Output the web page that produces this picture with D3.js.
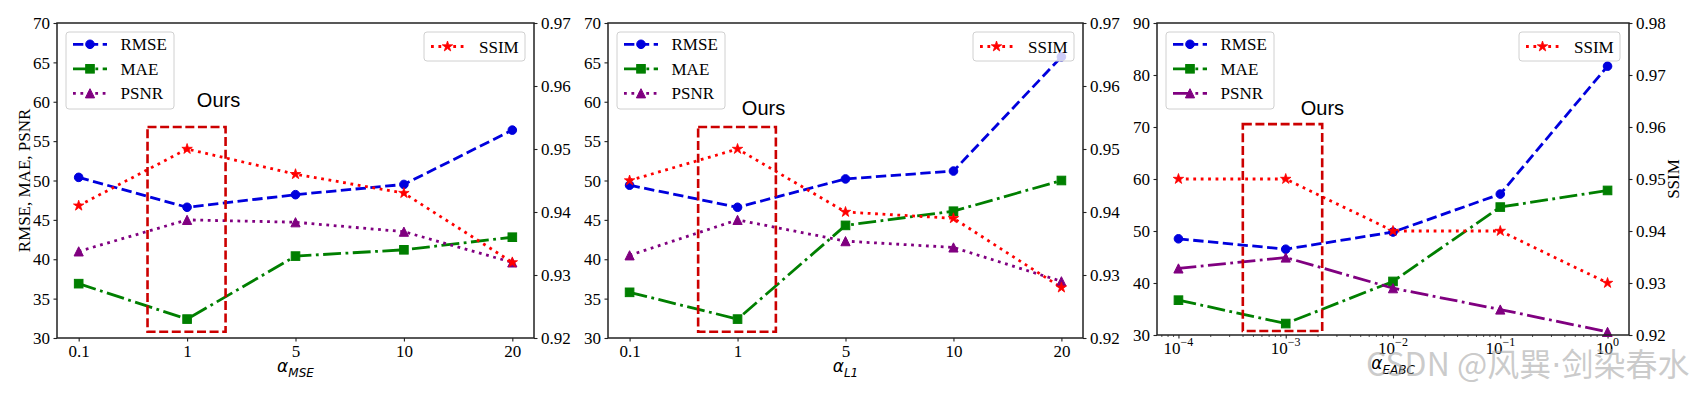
<!DOCTYPE html>
<html><head><meta charset="utf-8">
<script src="https://cdn.jsdelivr.net/npm/d3@7"></script>
<style>body{margin:0;background:#fff} svg{display:block}</style>
</head><body>
<svg id="c" width="1696" height="393"></svg>
<script>
// ---------- data ----------
const catsA = ["0.1", "1", "5", "10", "20"];
const xLog = [1e-4, 1e-3, 1e-2, 1e-1, 1];
const logTickExp = ["−4", "−3", "−2", "−1", "0"];

const rmse1 = [50.4, 46.6, 48.2, 49.5, 56.4];
const mae1  = [36.9, 32.4, 40.4, 41.2, 42.8];
const psnr1 = [41.0, 45.0, 44.7, 43.5, 39.6];
const ssim1 = [0.941, 0.950, 0.946, 0.943, 0.932];

const rmse2 = [49.4, 46.6, 50.2, 51.2, 65.7];
const mae2  = [35.8, 32.4, 44.3, 46.1, 50.0];
const psnr2 = [40.5, 45.0, 42.3, 41.5, 37.2];
const ssim2 = [0.945, 0.950, 0.940, 0.939, 0.928];

const rmse3 = [48.5, 46.5, 49.8, 57.1, 81.7];
const mae3  = [36.7, 32.2, 40.3, 54.6, 57.8];
const psnr3 = [42.8, 44.9, 39.0, 34.9, 30.6];
const ssim3 = [0.950, 0.950, 0.940, 0.940, 0.930];

const leftTicksA  = [30, 35, 40, 45, 50, 55, 60, 65, 70];
const rightTicksA = [0.92, 0.93, 0.94, 0.95, 0.96, 0.97];
const leftTicks3  = [30, 40, 50, 60, 70, 80, 90];
const rightTicks3 = [0.92, 0.93, 0.94, 0.95, 0.96, 0.97, 0.98];

const seriesNames = ["RMSE", "MAE", "PSNR"];
const rightName = "SSIM";

// ---------- styles ----------
const LW = 2.8;
const dashes = {
  "--": [3.7, 1.6].map(v => v * LW).join(","),
  "-.": [6.4, 1.6, 1, 1.6].map(v => v * LW).join(","),
  ":":  [1, 1.65].map(v => v * LW).join(",")
};
const colors = {RMSE: "#0000dd", MAE: "#007f00", PSNR: "#800080", SSIM: "#ff0000"};
const markers = {RMSE: "o", MAE: "s", PSNR: "^", SSIM: "*"};
const SERIF = "'Liberation Serif','Times New Roman',serif";
const SANS = "'Liberation Sans',Arial,sans-serif";
const DV = "'DejaVu Sans',sans-serif";
const FS = 17;

const panels = [
  {frame: {l: 57, r: 534, t: 23, b: 338}, kind: "cat", vals: {RMSE: rmse1, MAE: mae1, PSNR: psnr1, SSIM: ssim1},
   yL: [30, 70], yLt: leftTicksA, yR: [0.92, 0.97], yRt: rightTicksA, sub: "MSE",
   lineStyle: {RMSE: "--", MAE: "-.", PSNR: ":", SSIM: ":"}, ylabel: "RMSE, MAE, PSNR", ylabelR: null,
   ours: [1.09, 59.3], rect: [0.635, 1.355, 30.8, 56.8]},
  {frame: {l: 608, r: 1083, t: 23, b: 338}, kind: "cat", vals: {RMSE: rmse2, MAE: mae2, PSNR: psnr2, SSIM: ssim2},
   yL: [30, 70], yLt: leftTicksA, yR: [0.92, 0.97], yRt: rightTicksA, sub: "L1",
   lineStyle: {RMSE: "--", MAE: "-.", PSNR: ":", SSIM: ":"}, ylabel: null, ylabelR: null,
   ours: [1.04, 58.3], rect: [0.635, 1.355, 30.8, 56.8]},
  {frame: {l: 1157, r: 1629, t: 23, b: 335}, kind: "log", vals: {RMSE: rmse3, MAE: mae3, PSNR: psnr3, SSIM: ssim3},
   yL: [30, 90], yLt: leftTicks3, yR: [0.92, 0.98], yRt: rightTicks3, sub: "EABC",
   lineStyle: {RMSE: "--", MAE: "-.", PSNR: "-.", SSIM: ":"}, ylabel: null, ylabelR: "SSIM",
   ours: [Math.pow(10, -2.86), 72.3], rect: [Math.pow(10, -3.4), Math.pow(10, -2.66), 30.76, 70.55]}
];

const svg = d3.select("#c");

function starPath(R) {
  const r = R * 0.381966, p = [];
  for (let i = 0; i < 10; i++) {
    const a = -Math.PI / 2 + i * Math.PI / 5, rr = i % 2 ? r : R;
    p.push([rr * Math.cos(a), rr * Math.sin(a)]);
  }
  return "M" + p.map(q => q[0].toFixed(2) + "," + q[1].toFixed(2)).join("L") + "Z";
}
function drawMarker(g, type, x, y, color) {
  const s = 8.6;
  if (type === "o") {
    g.append("circle").attr("cx", x).attr("cy", y).attr("r", s / 2).attr("fill", color).attr("stroke", color).attr("stroke-width", 1);
  } else if (type === "s") {
    g.append("rect").attr("x", x - s / 2).attr("y", y - s / 2).attr("width", s).attr("height", s).attr("fill", color).attr("stroke", color).attr("stroke-width", 1);
  } else if (type === "^") {
    const h = s / 2 + 0.3;
    g.append("path").attr("d", `M${x},${y - h}L${x - h},${y + h}L${x + h},${y + h}Z`).attr("fill", color).attr("stroke", color).attr("stroke-width", 1);
  } else if (type === "*") {
    g.append("path").attr("d", starPath(5.5)).attr("transform", `translate(${x},${y})`).attr("fill", color).attr("stroke", color).attr("stroke-width", 0.8);
  }
}

panels.forEach((P, pi) => {
  const f = P.frame;
  const g = svg.append("g");
  const x = P.kind === "cat"
    ? d3.scaleLinear().domain([-0.2, 4.2]).range([f.l, f.r])
    : d3.scaleLog().domain([Math.pow(10, -4.2), Math.pow(10, 0.2)]).range([f.l, f.r]);
  const xv = P.kind === "cat" ? catsA.map((c, i) => i) : xLog;
  const yL = d3.scaleLinear().domain(P.yL).range([f.b, f.t]);
  const yR = d3.scaleLinear().domain(P.yR).range([f.b, f.t]);

  const clipId = "clip" + pi;
  svg.append("clipPath").attr("id", clipId).append("rect")
    .attr("x", f.l).attr("y", f.t).attr("width", f.r - f.l).attr("height", f.b - f.t);

  // axes
  const axL = g.append("g").attr("transform", `translate(${f.l},0)`)
    .call(d3.axisLeft(yL).tickValues(P.yLt).tickSize(3.5).tickPadding(3.5).tickFormat(d3.format("d")));
  const axR = g.append("g").attr("transform", `translate(${f.r},0)`)
    .call(d3.axisRight(yR).tickValues(P.yRt).tickSize(3.5).tickPadding(3.5).tickFormat(d3.format(".2f")));
  let axB;
  if (P.kind === "cat") {
    axB = g.append("g").attr("transform", `translate(0,${f.b})`)
      .call(d3.axisBottom(x).tickValues(xv).tickSize(3.5).tickPadding(3.5).tickFormat(i => catsA[i]));
  } else {
    axB = g.append("g").attr("transform", `translate(0,${f.b})`)
      .call(d3.axisBottom(x).tickValues(xLog).tickSize(3.5).tickPadding(3.5).tickFormat(() => ""));
    xLog.forEach((v, i) => {
      const t = g.append("text").attr("x", x(v)).attr("y", f.b + 19)
        .attr("text-anchor", "middle").attr("font-family", SERIF).attr("font-size", FS).attr("fill", "#000");
      t.append("tspan").text("10");
      t.append("tspan").attr("dy", -8).attr("font-size", 12).text(logTickExp[i]);
    });
    const minors = [];
    for (let e = -5; e <= 0; e++) for (let m = 2; m <= 9; m++) {
      const v = m * Math.pow(10, e);
      if (v > x.domain()[0] && v < x.domain()[1]) minors.push(v);
    }
    g.append("g").selectAll("line").data(minors).join("line")
      .attr("x1", d => x(d)).attr("x2", d => x(d)).attr("y1", f.b).attr("y2", f.b + 2)
      .attr("stroke", "#222").attr("stroke-width", 0.8);
  }
  [axL, axR, axB].forEach(a => {
    a.select(".domain").remove();
    a.selectAll(".tick line").attr("stroke", "#222").attr("stroke-width", 1.1);
    a.selectAll(".tick text").attr("font-family", SERIF).attr("font-size", FS).attr("fill", "#000");
  });
  axL.selectAll(".tick text").attr("dy", "0.33em");
  axR.selectAll(".tick text").attr("dy", "0.33em");

  // left-axis series
  const linesG = g.append("g").attr("clip-path", `url(#${clipId})`);
  const lineGen = yS => d3.line().x((d, i) => x(xv[i])).y(d => yS(d));
  seriesNames.forEach(n => {
    linesG.append("path").attr("d", lineGen(yL)(P.vals[n])).attr("fill", "none")
      .attr("stroke", colors[n]).attr("stroke-width", LW).attr("stroke-dasharray", dashes[P.lineStyle[n]]);
    const mg = g.append("g");
    P.vals[n].forEach((v, i) => drawMarker(mg, markers[n], x(xv[i]), yL(v), colors[n]));
  });

  // highlight box and label
  g.append("rect")
    .attr("x", x(P.rect[0])).attr("y", yL(P.rect[3]))
    .attr("width", x(P.rect[1]) - x(P.rect[0])).attr("height", yL(P.rect[2]) - yL(P.rect[3]))
    .attr("fill", "none").attr("stroke", "#cc0000").attr("stroke-width", 2.6).attr("stroke-dasharray", "9,3.6");
  g.append("text").attr("x", x(P.ours[0])).attr("y", yL(P.ours[1]))
    .attr("font-family", SANS).attr("font-size", 20).attr("fill", "#000").text("Ours");

  // right-axis series
  linesG.append("path").attr("d", lineGen(yR)(P.vals.SSIM)).attr("fill", "none")
    .attr("stroke", colors.SSIM).attr("stroke-width", LW).attr("stroke-dasharray", dashes[P.lineStyle.SSIM]);
  const sg = g.append("g");
  P.vals.SSIM.forEach((v, i) => drawMarker(sg, markers.SSIM, x(xv[i]), yR(v), colors.SSIM));

  // frame
  g.append("rect").attr("x", f.l).attr("y", f.t).attr("width", f.r - f.l).attr("height", f.b - f.t)
    .attr("fill", "none").attr("stroke", "#222").attr("stroke-width", 1.5);

  // left legend
  const lx = f.l + 9, ly = f.t + 9;
  const lg = g.append("g");
  lg.append("rect").attr("x", lx).attr("y", ly).attr("width", 108).attr("height", 77).attr("rx", 3)
    .attr("fill", "#fff").attr("fill-opacity", 0.8).attr("stroke", "#d0d0d0").attr("stroke-width", 1);
  seriesNames.forEach((n, k) => {
    const ry = ly + 12.3 + k * 24.5;
    lg.append("line").attr("x1", lx + 7).attr("x2", lx + 41).attr("y1", ry).attr("y2", ry)
      .attr("stroke", colors[n]).attr("stroke-width", LW).attr("stroke-dasharray", dashes[P.lineStyle[n]]);
    drawMarker(lg, markers[n], lx + 24, ry, colors[n]);
    lg.append("text").attr("x", lx + 54.5).attr("y", ry + 6).attr("font-family", SERIF).attr("font-size", FS)
      .attr("fill", "#000").text(n);
  });
  // right legend
  const sx = f.r - 9 - 101, sy = f.t + 9;
  const rg = g.append("g");
  rg.append("rect").attr("x", sx).attr("y", sy).attr("width", 101).attr("height", 29).attr("rx", 3)
    .attr("fill", "#fff").attr("fill-opacity", 0.8).attr("stroke", "#d0d0d0").attr("stroke-width", 1);
  const sry = sy + 14.5;
  rg.append("line").attr("x1", sx + 7).attr("x2", sx + 40).attr("y1", sry).attr("y2", sry)
    .attr("stroke", colors.SSIM).attr("stroke-width", LW).attr("stroke-dasharray", dashes[P.lineStyle.SSIM]);
  drawMarker(rg, markers.SSIM, sx + 23.5, sry, colors.SSIM);
  rg.append("text").attr("x", sx + 55).attr("y", sry + 6).attr("font-family", SERIF).attr("font-size", FS)
    .attr("fill", "#000").text(rightName);

  // x label (alpha with subscript)
  const xl = g.append("text").attr("x", (f.l + f.r) / 2).attr("y", f.b + 34).attr("text-anchor", "middle")
    .attr("font-family", DV).attr("font-style", "italic").attr("font-size", FS).attr("fill", "#000");
  xl.append("tspan").text("α");
  xl.append("tspan").attr("dy", 4.5).attr("font-size", 12).text(P.sub);

  if (P.ylabel) {
    g.append("text").attr("transform", `translate(30,${(f.t + f.b) / 2}) rotate(-90)`)
      .attr("text-anchor", "middle").attr("font-family", SERIF).attr("font-size", FS).attr("fill", "#000").text(P.ylabel);
  }
  if (P.ylabelR) {
    g.append("text").attr("transform", `translate(1679,${(f.t + f.b) / 2}) rotate(-90)`)
      .attr("text-anchor", "middle").attr("font-family", SERIF).attr("font-size", FS).attr("fill", "#000").text(P.ylabelR);
  }
});

// watermark
const wm = svg.append("text").attr("x", 1366).attr("y", 376)
  .attr("font-family", "'Noto Sans CJK SC','Noto Sans',sans-serif").attr("font-size", 32)
  .attr("fill", "#a8a8a8").attr("fill-opacity", 0.6);
wm.append("tspan").text("CSDN @风巽");
wm.append("tspan").attr("font-family", "'DejaVu Sans',sans-serif").text("·");
wm.append("tspan").text("剑染春水");
</script>
</body></html>
